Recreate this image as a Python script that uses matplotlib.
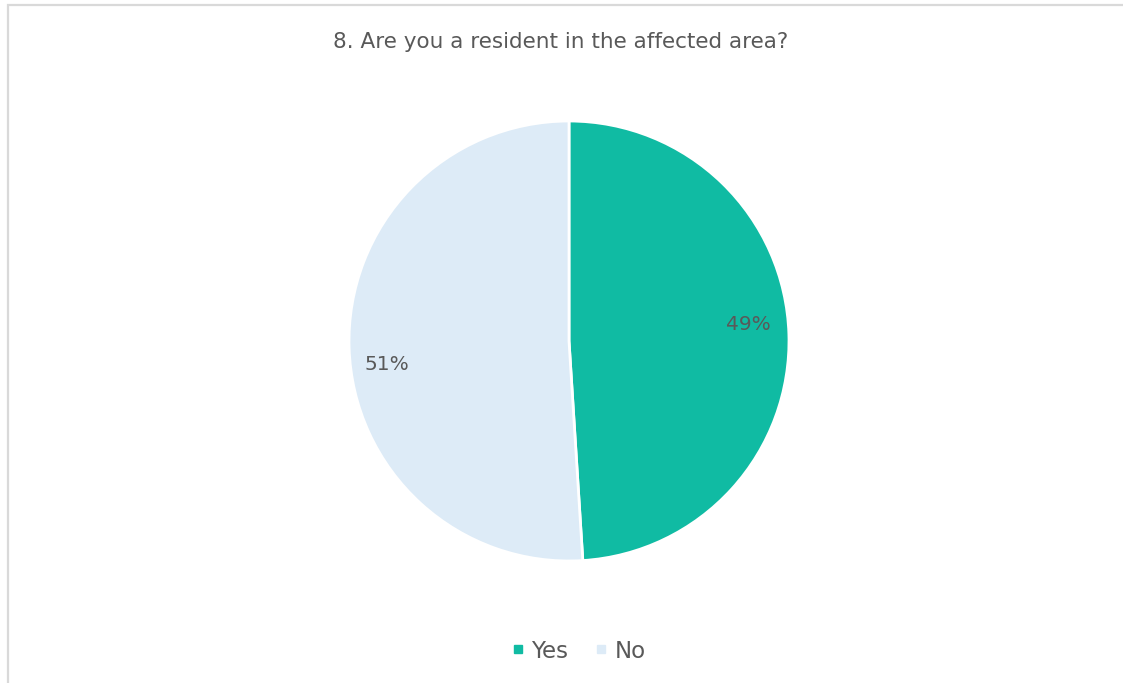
import matplotlib.pyplot as plt
from matplotlib.lines import Line2D
from matplotlib.patches import Rectangle

title = '8. Are you a resident in the affected area?'
answers = ['Yes', 'No']
shares = [49, 51]
colors = ['#10BBA3', '#DDEBF7']
text_color = '#595959'

plt.rcParams['font.family'] = ['DejaVu Sans']

W, H = 1123, 683
fig = plt.figure(figsize=(W / 100, H / 100), dpi=100)

# light grey frame around the chart area
fig.patches.append(Rectangle((8 / W, -0.01), 1.02, 1 - 5 / H + 0.01, transform=fig.transFigure,
                             fill=False, edgecolor='#D9D9D9', linewidth=1.6))

# pie centred at (569, 341) px, radius 220 px
cx, cy, r = 569, 341, 220
ax = fig.add_axes([(cx - r) / W, (H - cy - r) / H, 2 * r / W, 2 * r / H])
wedges, texts, autotexts = ax.pie(
    shares, colors=colors, startangle=90, counterclock=False, radius=1,
    autopct='%1.0f%%', pctdistance=0.82,
    wedgeprops=dict(edgecolor='white', linewidth=2),
    textprops=dict(color=text_color, fontsize=14.5))
# nudge the percentage labels
autotexts[0].set_position((0.814, 0.073))
autotexts[1].set_position((-0.827, -0.109))
ax.set_xlim(-1, 1)
ax.set_ylim(-1, 1)
ax.set_aspect('equal')
ax.axis('off')

fig.text(561 / W, 1 - 42 / H, title, ha='center', va='center', fontsize=15.5, color=text_color)

handles = [Line2D([], [], marker='s', linestyle='none', markersize=6, color=c) for c in colors]
fig.legend(handles, answers, loc='center', bbox_to_anchor=(577 / W, 1 - 651 / H), ncol=2,
           frameon=False, fontsize=16.5, labelcolor=text_color, handletextpad=0.2,
           columnspacing=1.0, handlelength=0.8)

fig.savefig('out.png', dpi=100)
